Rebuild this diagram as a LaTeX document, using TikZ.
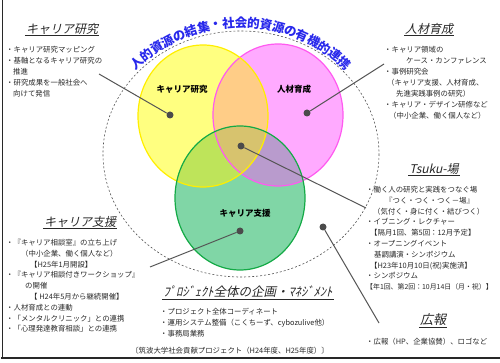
\documentclass[tikz,border=0pt]{standalone}
\usepackage{fontspec}
\setmainfont{Noto Sans CJK JP}
\newfontfamily\jpit[FakeSlant=0.22]{Noto Sans CJK JP}
\definecolor{txt}{RGB}{40,40,40}
\definecolor{lnc}{RGB}{85,85,85}
\definecolor{dotc}{RGB}{75,75,75}
\definecolor{arcblue}{RGB}{40,40,235}
\definecolor{yfill}{RGB}{255,255,128}
\definecolor{ystroke}{RGB}{255,238,0}
\definecolor{pfill}{RGB}{255,170,255}
\definecolor{pstroke}{RGB}{255,90,240}
\definecolor{gfill}{RGB}{128,214,166}
\definecolor{gstroke}{RGB}{20,170,70}
\definecolor{ypfill}{RGB}{255,205,135}
\definecolor{gyfill}{RGB}{190,228,90}
\definecolor{gpfill}{RGB}{185,155,205}
\definecolor{gypfill}{RGB}{215,195,110}
\begin{document}
\begin{tikzpicture}[x=1pt,y=-1pt,
  body/.style={font=\fontsize{7.4}{11}\selectfont, text=txt, align=left, anchor=north west, inner sep=0pt},
  bodyb/.style={body, font=\fontsize{7.4}{10.8}\selectfont},
  ttl/.style={font=\jpit\fontsize{12}{14}\selectfont, text=txt, inner sep=1pt},
  clab/.style={font=\bfseries\fontsize{8.5}{10}\selectfont, text=black, inner sep=0pt},
  dotn/.style={circle, fill=dotc, inner sep=0pt, minimum size=7pt},
  conn/.style={draw=lnc, line width=1pt},
  uline/.style={draw=txt, line width=0.6pt},
  arcch/.style={font=\bfseries\fontsize{12.5}{14}\selectfont, text=arcblue, inner sep=0pt}]
\useasboundingbox (0,0) rectangle (500,363);
% frame
\draw[line width=0.8pt, draw=txt] (2,0) -- (2,358);
\draw[line width=1.5pt, draw=txt] (1.3,358) -- (500,358);
% dashed ellipse
\draw[draw=txt!80, line width=0.6pt, dash pattern=on 2pt off 2pt] (241,154) ellipse [x radius=138, y radius=123];
% venn regions
\fill[yfill] (203,116) ellipse [x radius=65, y radius=71];
\fill[pfill] (278,115) ellipse [x radius=65, y radius=71];
\begin{scope}
  \clip (203,116) ellipse [x radius=65, y radius=71];
  \fill[ypfill] (278,115) ellipse [x radius=65, y radius=71];
\end{scope}
\fill[gfill] (240,198) ellipse [x radius=65, y radius=72];
\begin{scope}
  \clip (240,198) ellipse [x radius=65, y radius=72];
  \fill[gyfill] (203,116) ellipse [x radius=65, y radius=71];
  \fill[gpfill] (278,115) ellipse [x radius=65, y radius=71];
  \clip (203,116) ellipse [x radius=65, y radius=71];
  \fill[gypfill] (278,115) ellipse [x radius=65, y radius=71];
\end{scope}
\draw[pstroke, line width=1.2pt] (278,115) ellipse [x radius=65, y radius=71];
\draw[ystroke, line width=1.2pt] (203,116) ellipse [x radius=65, y radius=71];
\draw[gstroke, line width=1.2pt] (240,198) ellipse [x radius=65, y radius=72];
% circle labels
\node[clab] (lkk) at (182,89) {キャリア研究};
\node[clab] (ljz) at (294,89) {人材育成};
\node[clab] (lks) at (245,213) {キャリア支援};
% arc text
\foreach \ch [count=\i from 0] in {人,的,資,源,の,結,集,・,社,会,的,資,源,の,有,機,的,連,携}{
  \pgfmathsetmacro\ang{132-\i*84/18}
  \node[arcch, rotate=\ang-90] (arc\i) at ({241+155*cos(\ang)},{178-155*sin(\ang)}) {\ch};
}
% dots and connectors
\node[dotn] (dy) at (170,115) {};
\node[dotn] (dp) at (307,113) {};
\node[dotn] (dc) at (241,146) {};
\node[dotn] (dg) at (240,231) {};
\node[dotn] (dr) at (323,227) {};
\coordinate (ey) at (99,74);
\coordinate (ep) at (384,64);
\coordinate (ec) at (366,208);
\coordinate (eg) at (150,267);
\coordinate (er) at (379,323);
\draw[conn] (dy) -- (ey);
\draw[conn] (dp) -- (ep);
\draw[conn] (dc) -- (ec);
\draw[conn] (dg) -- (eg);
\draw[conn] (dr) -- (er);
% titles
\node[ttl] (tA) at (62,29) {キャリア研究};
\node[ttl] (tB) at (429,29) {人材育成};
\node[ttl] (tC) at (434,169) {Tsuku-場};
\node[ttl] (tD) at (80,222) {キャリア支援};
\node[ttl, font=\jpit\fontsize{12.5}{14}\selectfont] (tE) at (248,292) {ﾌﾟﾛｼﾞｪｸﾄ全体の企画・ﾏﾈｼﾞﾒﾝﾄ};
\node[ttl, font=\jpit\fontsize{13}{15}\selectfont] (tF) at (433,320) {広報};
\foreach \t in {tA,tB,tC,tD,tE,tF}{
  \draw[uline] (\t.south west) -- (\t.south east);
}
% text blocks
\node[body] (bA) at (6,46) {・キャリア研究マッピング\\
・基軸となるキャリア研究の\\
\hspace*{7pt}推進\\
・研究成果を一般社会へ\\
\hspace*{7pt}向けて発信};
\node[body] (bB) at (384,46) {・キャリア領域の\\
\hspace*{22pt}ケース・カンファレンス\\
・事例研究会\\
\hspace*{3pt}（キャリア支援、人材育成、\\
\hspace*{12pt}先進実践事例の研究）\\
・キャリア・デザイン研修など\\
\hspace*{5pt}（中小企業、働く個人など）};
\node[bodyb] (bC) at (366,186) {・働く人の研究と実践をつなぐ場\\
\hspace*{19pt}『つく・つく・つく－場』\\
\hspace*{7pt}（気付く・身に付く・結びつく）\\
・イブニング・レクチャー\\
\hspace*{4pt}【隔月1回、第5回：12月予定】\\
・オープニングイベント\\
\hspace*{8pt}基調講演・シンポジウム\\
\hspace*{4pt}【H23年10月10日(祝)実施済】\\
・シンポジウム\\
{\fontsize{6.9}{10.8}\selectfont 【年1回、第2回：10月14日（月・祝）】}};
\node[bodyb] (bD) at (6,239) {・『キャリア相談室』の立ち上げ\\
\hspace*{15pt}（中小企業、働く個人など）\\
\hspace*{24pt}【H25年1月開設】\\
・『キャリア相談付きワークショップ』\\
\hspace*{19pt}の開催\\
\hspace*{24pt}【 H24年5月から継続開催】\\
・人材育成との連動\\
・「メンタルクリニック」との連携\\
・「心理発達教育相談」との連携};
\node[bodyb] (bE) at (160,308) {・プロジェクト全体コーディネート\\
・運用システム整備（こくちーず、cybozulive他）\\
・事務局業務};
\node[body] (bF) at (366,338) {・広報（HP、企業協賛）、ロゴなど};
\node[body, anchor=center] (bG) at (230,351) {〔筑波大学社会貢献プロジェクト（H24年度、H25年度）〕};
\end{tikzpicture}
\end{document}
